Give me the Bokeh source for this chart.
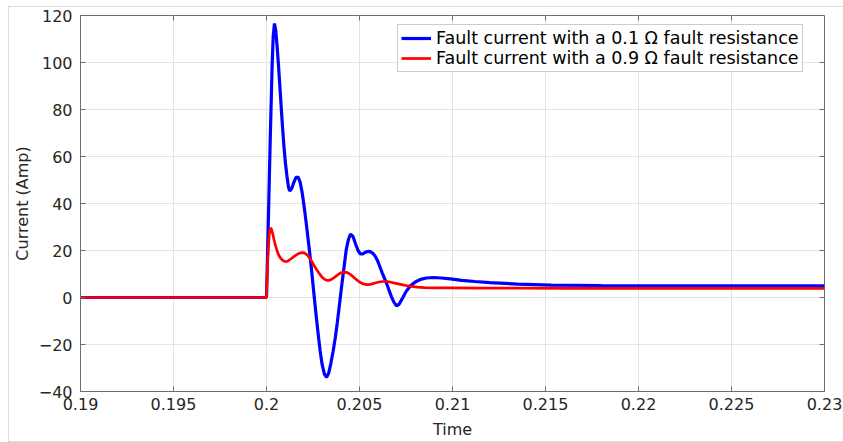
import math
from bokeh.plotting import figure
from bokeh.models import Range1d, FixedTicker, Legend, LegendItem
from bokeh.embed import file_html
from bokeh.resources import INLINE

# ---- data ----
t_blue = [0.19, 0.2, 0.2001, 0.2002, 0.2003, 0.20036, 0.20043, 0.2005, 0.20057, 0.20066,
          0.20075, 0.20084, 0.20093, 0.20102, 0.20111, 0.20118, 0.20125, 0.20136, 0.20147,
          0.20158, 0.2017, 0.20181, 0.20192, 0.20201, 0.2021, 0.20222, 0.20233, 0.20245,
          0.20255, 0.20266, 0.20277, 0.20288, 0.20299, 0.20311, 0.20323, 0.20335, 0.20346,
          0.20358, 0.2037, 0.20381, 0.20393, 0.20405, 0.20417, 0.20429, 0.20441, 0.20452,
          0.20465, 0.20478, 0.20492, 0.20505, 0.20518, 0.2053, 0.20545, 0.20558, 0.20572,
          0.20585, 0.20598, 0.2061, 0.20622, 0.20635, 0.20648, 0.2066, 0.20672, 0.20685,
          0.20699, 0.20713, 0.2073, 0.2075, 0.20774, 0.208, 0.20828, 0.2086, 0.20899,
          0.2094, 0.20989, 0.2105, 0.2112, 0.212, 0.2135, 0.2153, 0.218, 0.222, 0.226, 0.23]
i_blue = [0, 0, 33, 67, 98, 111, 116.6, 113.5, 107, 97,
          86, 75, 65, 57, 51, 47, 45.3, 46.5, 49,
          51, 51.3, 49, 44.5, 39.5, 34, 26, 18.5, 9.5,
          1.5, -7, -15, -22.5, -28.5, -32.5, -34, -32, -28,
          -23, -17, -10.5, -2.5, 5.5, 13, 20.5, 24.8, 27,
          26, 23, 20, 18.5, 18.6, 19.2, 19.6, 19.5, 18.8,
          17.5, 15.5, 13, 10.5, 8, 5.5, 2.8, 0.3, -2,
          -3.6, -2.8, -0.5, 2.5, 5, 6.6, 7.7, 8.3, 8.5,
          8.3, 7.9, 7.3, 6.8, 6.3, 5.7, 5.3, 5.1, 5.0, 5.0, 5.0]

t_red = [0.19, 0.2, 0.20005, 0.2001, 0.20015, 0.2002, 0.20026, 0.20033, 0.2004, 0.20048,
         0.20057, 0.20066, 0.20075, 0.20084, 0.20093, 0.20102, 0.20111, 0.2012, 0.20132,
         0.20144, 0.20156, 0.20168, 0.2018, 0.20192, 0.20203, 0.20214, 0.20226, 0.20237,
         0.20248, 0.20259, 0.2027, 0.20281, 0.20292, 0.20303, 0.20314, 0.20324, 0.20335,
         0.20347, 0.20359, 0.20371, 0.20382, 0.20393, 0.20405, 0.20418, 0.20434, 0.20448,
         0.20462, 0.20475, 0.20487, 0.205, 0.20513, 0.20526, 0.20538, 0.2055, 0.20563,
         0.20576, 0.20588, 0.20605, 0.20625, 0.20649, 0.2067, 0.2069, 0.2072, 0.2075,
         0.2078, 0.2081, 0.2085, 0.209, 0.20989, 0.2115, 0.2135, 0.216, 0.22, 0.225, 0.23]
i_red = [0, 0, 13, 21, 27, 29.6, 29.2, 27.3, 24.8, 22.2,
         19.8, 18, 16.8, 16, 15.5, 15.3, 15.4, 15.8, 16.5,
         17.2, 17.9, 18.5, 18.9, 19.1, 19, 18.4, 17.5, 16.2,
         14.7, 13.2, 11.8, 10.5, 9.3, 8.3, 7.7, 7.3, 7.3,
         7.6, 8.2, 8.9, 9.6, 10.2, 10.6, 10.8, 10.6, 10,
         9.1, 8.2, 7.4, 6.6, 6, 5.7, 5.5, 5.5, 5.7,
         6.0, 6.3, 6.6, 6.8, 6.8, 6.5, 6.1, 5.6, 5.1,
         4.7, 4.4, 4.2, 4.1, 4.1, 4.0, 4.0, 3.9, 3.9, 3.9, 3.9]

x_ticks = [0.19, 0.195, 0.2, 0.205, 0.21, 0.215, 0.22, 0.225, 0.23]
x_tick_labels = ["0.19", "0.195", "0.2", "0.205", "0.21", "0.215", "0.22", "0.225", "0.23"]
y_ticks = [-40, -20, 0, 20, 40, 60, 80, 100, 120]

label_blue = "Fault current with a 0.1 \u03a9 fault resistance"
label_red = "Fault current with a 0.9 \u03a9 fault resistance"

FONT = "DejaVu Sans"
TXT = "#262626"
AX = "#6e6e6e"

x0, x1 = x_ticks[0], x_ticks[-1]
y0, y1 = y_ticks[0], y_ticks[-1]

p = figure(width=834, height=434, output_backend="svg", toolbar_location=None,
           x_range=Range1d(x0, x1), y_range=Range1d(y0, y1),
           min_border_left=71, min_border_right=19, min_border_top=8, min_border_bottom=48,
           background_fill_color="white", border_fill_color="white")
p.margin = (7, 0, 0, 9)
p.styles = {"outline": "1px solid #dcdcdc"}

p.outline_line_color = AX
p.outline_line_width = 1

for ax in (p.xaxis[0], p.yaxis[0]):
    ax.major_tick_in = 5
    ax.major_tick_out = 0
    ax.minor_tick_line_color = None
    ax.axis_line_color = AX
    ax.major_tick_line_color = AX
    ax.major_label_text_font = FONT
    ax.major_label_text_font_size = "16px"
    ax.major_label_text_color = TXT
    ax.axis_label_text_font = FONT
    ax.axis_label_text_font_size = "16px"
    ax.axis_label_text_font_style = "normal"
    ax.axis_label_text_color = TXT

p.xaxis[0].ticker = FixedTicker(ticks=x_ticks)
p.xaxis[0].major_label_overrides = {t: s for t, s in zip(x_ticks, x_tick_labels)}
p.xaxis[0].major_label_standoff = 6
p.xaxis[0].axis_label = "Time"
p.xaxis[0].axis_label_standoff = 7

p.yaxis[0].ticker = FixedTicker(ticks=y_ticks)
p.yaxis[0].major_label_standoff = 8
p.yaxis[0].axis_label = "Current (Amp)"
p.yaxis[0].axis_label_standoff = 4

p.xgrid.ticker = FixedTicker(ticks=x_ticks)
p.ygrid.ticker = FixedTicker(ticks=y_ticks)
p.grid.grid_line_color = "#e4e4e4"
p.grid.grid_line_width = 1

# box ticks on the top and right edges (from the tick lists)
p.ray(x=x_ticks, y=[y1] * len(x_ticks), length=5, length_units="screen",
      angle=-math.pi / 2, line_color=AX, line_width=1)
p.ray(x=[x1] * len(y_ticks), y=y_ticks, length=5, length_units="screen",
      angle=math.pi, line_color=AX, line_width=1)

r_blue = p.line(t_blue, i_blue, line_color="#0000ff", line_width=3.2)
r_red = p.line(t_red, i_red, line_color="#ff0000", line_width=2.7)

legend = Legend(items=[LegendItem(label=label_blue, renderers=[r_blue]),
                       LegendItem(label=label_red, renderers=[r_red])],
                location=(317, 319), orientation="vertical",
                label_text_font=FONT, label_text_font_size="17.5px", label_text_color="#000000",
                glyph_width=30, glyph_height=18, label_height=18, label_standoff=5,
                spacing=0, padding=3, margin=0,
                border_line_color="#9a9a9a", border_line_width=1,
                background_fill_color="white", background_fill_alpha=1.0)
p.add_layout(legend, "center")

open("out.html", "w").write(file_html(p, INLINE))
